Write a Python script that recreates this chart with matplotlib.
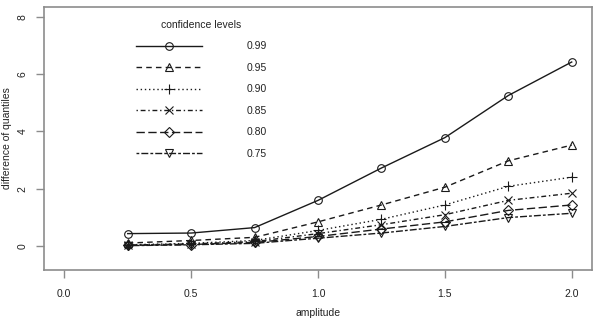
import matplotlib
matplotlib.use("Agg")
import matplotlib.pyplot as plt

plt.rcParams['font.family'] = ['Liberation Sans', 'DejaVu Sans']

amplitude = [0.25, 0.5, 0.75, 1.0, 1.25, 1.5, 1.75, 2.0]
levels = ["0.99", "0.95", "0.90", "0.85", "0.80", "0.75"]
q99 = [0.43, 0.45, 0.64, 1.59, 2.72, 3.78, 5.25, 6.42]
q95 = [0.10, 0.19, 0.30, 0.84, 1.43, 2.05, 2.97, 3.52]
q90 = [0.04, 0.09, 0.19, 0.54, 0.93, 1.43, 2.08, 2.40]
q85 = [0.03, 0.07, 0.15, 0.43, 0.74, 1.09, 1.59, 1.84]
q80 = [0.02, 0.05, 0.12, 0.33, 0.59, 0.84, 1.24, 1.43]
q75 = [0.01, 0.04, 0.09, 0.27, 0.45, 0.68, 0.99, 1.14]
series = [q99, q95, q90, q85, q80, q75]

markers = ['o', '^', '+', 'x', 'D', 'v']
msizes = [5.5, 6, 7, 5.5, 5, 6]
styles = ['-', (0, (4, 3)), (0, (1, 2)), (0, (1, 2, 3.5, 2)), (0, (6, 2.5)), (0, (2, 1.5, 5, 1.5))]

FS = 7.5
fig = plt.figure(figsize=(5.97, 3.19), dpi=100)
ax = fig.add_axes([44/597, 1 - 270/319, (592-44)/597, (270-7)/319])

for vals, lab, mk, ms, ls in zip(series, levels, markers, msizes, styles):
    ax.plot(amplitude, vals, linestyle=ls, color='#1a1a1a', lw=1.0,
            marker=mk, markersize=ms, markerfacecolor='none',
            markeredgecolor='#1a1a1a', markeredgewidth=0.8, label=lab)

ax.set_xlim(-0.08, 2.08)
ax.set_ylim(-0.84, 8.34)
ax.set_xticks([0.0, 0.5, 1.0, 1.5, 2.0])
ax.set_xticklabels(["0.0", "0.5", "1.0", "1.5", "2.0"])
ax.set_yticks([0, 2, 4, 6, 8])
ax.set_yticklabels(["0", "2", "4", "6", "8"], rotation=90, va='center')

for s in ax.spines.values():
    s.set_color('#8c8c8c')
    s.set_linewidth(1.2)
ax.tick_params(axis='both', direction='out', length=6, width=1.0, color='#8c8c8c',
               labelsize=FS, labelcolor='#222222')
ax.tick_params(axis='x', pad=8)
ax.tick_params(axis='y', pad=6)

ax.set_xlabel("amplitude", fontsize=FS, color='#222222', va='center')
ax.xaxis.set_label_coords(0.5 * (44 + 592) / 597, 1 - 313/319, transform=fig.transFigure)
ax.set_ylabel("difference of quantiles", fontsize=FS, color='#222222', va='center')
ax.yaxis.set_label_coords(7/597, 1 - 138/319, transform=fig.transFigure)

leg = ax.legend(loc='upper left', bbox_to_anchor=(136/597, 1 - 20/319),
                bbox_transform=fig.transFigure, frameon=False,
                title="confidence levels", title_fontsize=FS, fontsize=FS,
                handlelength=6.3, handletextpad=4.3, labelspacing=1.1,
                borderpad=0, borderaxespad=0)
for t in leg.get_texts():
    t.set_color('#222222')
leg.get_title().set_color('#222222')

fig.savefig("out.png", dpi=100)
